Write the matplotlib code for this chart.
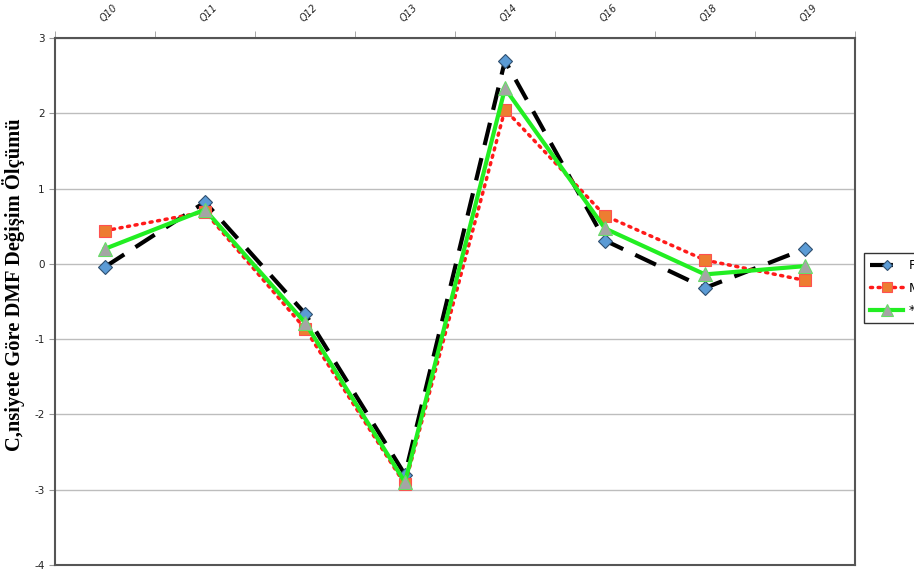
import matplotlib.pyplot as plt
import numpy as np

# Data
questions = ["Q10", "Q11", "Q12", "Q13", "Q14", "Q16", "Q18", "Q19"]
female = [-0.04, 0.82, -0.66, -2.80, 2.70, 0.31, -0.32, 0.20]
male = [0.44, 0.69, -0.86, -2.93, 2.05, 0.64, 0.05, -0.22]
total = [0.20, 0.72, -0.78, -2.90, 2.33, 0.47, -0.14, -0.03]
series_names = ["F", "M", "*"]

plt.rcParams["axes.unicode_minus"] = False

fig = plt.figure(figsize=(9.14, 5.71), dpi=100)
ax = fig.add_axes([55 / 914, 6 / 571, 800 / 914, 527 / 571])

x = np.arange(len(questions))

ax.plot(x, female, color="black", lw=3, dashes=(5.5, 3.2), marker="D",
        markersize=7, markerfacecolor="#5B9BD5", markeredgecolor="#2F4F6F",
        markeredgewidth=0.8, label=series_names[0], zorder=3)
ax.plot(x, male, color="#FF1A1A", lw=2.5, linestyle=(0, (0.6, 1.6)),
        dash_capstyle="round", marker="s", markersize=8.5,
        markerfacecolor="#ED7D31", markeredgecolor="#FF5050",
        markeredgewidth=0.8, label=series_names[1], zorder=4)
ax.plot(x, total, color="#22EE22", lw=3, marker="^", markersize=10,
        markerfacecolor="#A5A5A5", markeredgecolor="#66DD66",
        markeredgewidth=0.8, label=series_names[2], zorder=5)

ax.set_xlim(-0.5, len(questions) - 0.5)
ax.set_ylim(-4, 3)
ax.set_yticks(np.arange(-4, 4, 1))
ax.yaxis.grid(True, color="#BDBDBD", lw=1)
ax.set_axisbelow(True)

# category labels on top, tick marks at boundaries
ax.xaxis.tick_top()
ax.set_xticks(x)
ax.set_xticklabels(questions, rotation=45, fontsize=7, style="italic",
                   ha="left", rotation_mode="anchor", color="#222222")
ax.set_xticks(np.arange(-0.5, len(questions), 1), minor=True)
ax.tick_params(axis="x", which="major", length=0, pad=10)
ax.tick_params(axis="x", which="minor", length=5, direction="out",
               color="#999999", top=True, bottom=False)
ax.tick_params(axis="y", length=4, direction="out", color="#999999",
               labelsize=7.5, labelcolor="#222222")

for s in ax.spines.values():
    s.set_color("#555555")
    s.set_linewidth(1.5)

ax.set_ylabel("C,nsiyete Göre DMF Değişim Ölçümü", family="Liberation Serif",
              fontweight="bold", fontsize=14.8)
ax.yaxis.set_label_coords(-0.037, 0.531)

leg = fig.legend(loc="upper left", bbox_to_anchor=(864 / 914, (571 - 253) / 571),
                 frameon=True, fancybox=False, edgecolor="black", fontsize=9,
                 handlelength=2.6, handletextpad=0.5, labelspacing=0.75,
                 borderpad=0.5, borderaxespad=0, markerscale=0.8)
leg.get_frame().set_linewidth(1)

fig.savefig("out.png", dpi=100)
